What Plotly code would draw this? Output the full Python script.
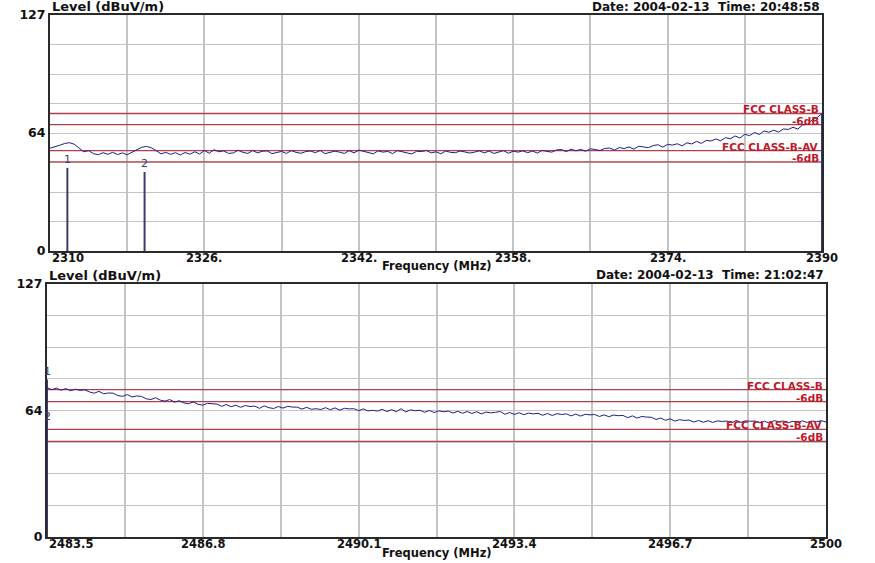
import plotly.graph_objects as go

W, H = 875, 563

# ---------------- data ----------------
top_start, top_step = 2310.0, 0.5
top_level = [
    55.3, 55.9, 56.9, 57.8, 58.3, 57.5, 55.2, 53.4, 54.0, 52.4,
    51.8, 52.9, 52.0, 53.1, 51.9, 52.8, 51.8, 53.0, 54.4, 55.8,
    56.3, 55.5, 54.0, 52.3, 53.1, 52.0, 52.9, 51.7, 53.0, 52.1,
    53.4, 52.2, 54.1, 52.6, 54.5, 53.4, 53.9, 52.5, 52.8, 54.2,
    53.1, 52.5, 54.1, 52.8, 53.7, 53.9, 52.4, 53.2, 53.6, 52.5,
    54.0, 53.1, 52.6, 53.5, 53.8, 52.9, 54.1, 52.4, 53.0, 53.7,
    53.2, 52.5, 54.0, 52.8, 54.3, 53.6, 52.8, 52.3, 53.9, 53.2,
    53.6, 52.4, 54.0, 53.3, 52.8, 52.2, 53.7, 53.5, 54.1, 52.8,
    53.4, 52.3, 53.8, 53.1, 52.9, 53.8, 53.3, 52.7, 53.2, 53.9,
    52.8, 53.8, 52.5, 53.1, 54.0, 52.6, 53.7, 53.2, 53.9, 52.9,
    53.8, 52.7, 54.1, 53.6, 53.2, 54.4, 54.6, 53.5, 54.8, 53.9,
    54.7, 53.7, 55.0, 54.6, 54.1, 55.2, 55.4, 54.3, 55.7, 55.1,
    56.0, 54.8, 56.4, 56.0, 55.6, 56.7, 57.2, 55.9, 57.4, 57.0,
    57.7, 56.6, 58.2, 57.6, 59.0, 57.9, 59.5, 59.2, 60.3, 59.3,
    61.0, 60.4, 61.9, 60.8, 62.8, 62.1, 63.8, 62.7, 64.6, 63.9,
    65.0, 64.0, 65.7, 65.4, 66.6, 65.6, 67.9, 68.1, 70.7, 71.8,
    74.0,
]
top_freq = [round(top_start + i * top_step, 2) for i in range(len(top_level))]

bot_start, bot_step = 2483.5, 0.1
bot_level = [
    75.0, 74.0, 74.7, 73.7, 74.5, 73.4, 74.2, 73.6, 73.9, 72.8,
    72.2, 73.1, 71.9, 72.3, 72.2, 71.0, 70.6, 71.5, 70.3, 70.8,
    70.6, 69.4, 69.0, 69.9, 68.7, 68.2, 69.0, 67.7, 68.4, 67.3,
    66.9, 67.8, 66.6, 66.2, 67.1, 66.8, 66.7, 65.6, 66.5, 65.4,
    66.1, 65.1, 66.0, 65.5, 65.7, 64.6, 65.8, 64.9, 64.5, 65.5,
    64.7, 65.6, 65.2, 65.2, 64.2, 65.1, 64.1, 64.4, 64.0, 64.9,
    63.9, 64.8, 63.7, 64.6, 64.3, 64.4, 63.4, 64.3, 63.3, 63.6,
    63.2, 64.1, 63.0, 63.9, 62.9, 64.4, 62.8, 63.8, 63.4, 63.6,
    62.6, 63.5, 62.5, 63.3, 62.9, 63.2, 62.2, 63.1, 62.1, 63.0,
    62.0, 62.9, 61.8, 62.7, 62.3, 62.6, 63.0, 61.6, 62.5, 61.5,
    62.4, 61.4, 62.2, 61.8, 62.1, 61.1, 62.0, 61.0, 61.9, 61.5,
    61.8, 60.8, 61.7, 60.7, 61.6, 61.3, 61.5, 60.5, 61.3, 60.4,
    61.2, 60.9, 61.0, 59.9, 60.8, 59.7, 60.5, 60.2, 60.1, 59.0,
    59.7, 58.6, 59.3, 58.2, 58.9, 58.5, 58.7, 57.7, 58.5, 57.6,
    58.4, 57.5, 58.3, 58.0, 58.2, 57.3, 58.5, 57.6, 58.3, 58.1,
    58.2, 57.3, 58.1, 57.2, 58.4, 57.9, 58.2, 57.3, 58.1, 57.4,
    58.3, 57.5, 58.2, 57.9, 58.4, 57.7,
]
bot_freq = [round(bot_start + i * bot_step, 2) for i in range(len(bot_level))]

limit_names = ["FCC CLASS-B", "-6dB", "FCC CLASS-B-AV", "-6dB"]
limit_values = [74, 68, 54, 48]

top_marker_freq = [2311.8, 2319.8]
top_marker_level = [44.7, 42.5]
top_marker_label = ["1", "2"]
bot_marker_freq = [2483.5, 2483.5]
bot_marker_level = [79.0, 56.0]
bot_marker_label = ["1", "2"]

top_xticks = [2310, 2326, 2342, 2358, 2374, 2390]
top_xtext = ["2310", "2326.", "2342.", "2358.", "2374.", "2390"]
top_xgrid = [2310, 2318, 2326, 2334, 2342, 2350, 2358, 2366, 2374, 2382, 2390]
bot_xticks = [2483.5, 2486.8, 2490.1, 2493.4, 2496.7, 2500]
bot_xtext = ["2483.5", "2486.8", "2490.1", "2493.4", "2496.7", "2500"]
bot_xgrid = [2483.5, 2485.15, 2486.8, 2488.45, 2490.1, 2491.75, 2493.4,
             2495.05, 2496.7, 2498.35, 2500]
ygrid = [0, 15.875, 31.75, 47.625, 63.5, 79.375, 95.25, 111.125, 127]
ytext = ["0", "", "", "", "64", "", "", "", "127"]

top_date = "Date: 2004-02-13  Time: 20:48:58"
bot_date = "Date: 2004-02-13  Time: 21:02:47"
y_title = "Level (dBuV/m)"
x_title = "Frequency (MHz)"

# ---------------- styling ----------------
FONT = "DejaVu Sans"
DATA_C = "#1e1e8a"
LIM_C = "#b0404c"
LAB_C = "#c0182a"
GRID_C = "#c4c4c4"
MARK_C = "#3c3c70"


def px(x):
    return x / W


def py(y):
    return 1 - y / H


panels = [
    dict(xa="x", ya="y", freq=top_freq, level=top_level, xr=[2310, 2390],
         dom_x=[px(50), px(822)], dom_y=[py(251), py(15)],
         mf=top_marker_freq, ml=top_marker_level, mt=top_marker_label,
         xticks=top_xticks, xtext=top_xtext, xgrid=top_xgrid,
         date=top_date, title_y=7, date_y=7, tick_y=258, left=50, right=822,
         end_drop=True),
    dict(xa="x2", ya="y2", freq=bot_freq, level=bot_level, xr=[2483.5, 2500],
         dom_x=[px(47), px(826)], dom_y=[py(537), py(284)],
         mf=bot_marker_freq, ml=bot_marker_level, mt=bot_marker_label,
         xticks=bot_xticks, xtext=bot_xtext, xgrid=bot_xgrid,
         date=bot_date, title_y=275, date_y=275, tick_y=544, left=47, right=826,
         end_drop=False),
]

fig = go.Figure()
annotations = []
layout = {}

for i, p in enumerate(panels):
    xa, ya = p["xa"], p["ya"]
    x0, x1 = p["xr"]
    # limit lines
    for v in limit_values:
        fig.add_trace(go.Scatter(x=[x0, x1], y=[v, v], mode="lines",
                                 line=dict(color=LIM_C, width=1.3),
                                 xaxis=xa, yaxis=ya, hoverinfo="skip"))
    # marker lines
    mx, my = [], []
    for f, l in zip(p["mf"], p["ml"]):
        mx += [f, f, None]
        my += [0, l, None]
    fig.add_trace(go.Scatter(x=mx, y=my, mode="lines",
                             line=dict(color=MARK_C, width=2),
                             xaxis=xa, yaxis=ya, hoverinfo="skip"))
    # data
    fig.add_trace(go.Scatter(x=p["freq"], y=p["level"], mode="lines",
                             line=dict(color=DATA_C, width=1),
                             xaxis=xa, yaxis=ya))
    if p["end_drop"]:
        fig.add_trace(go.Scatter(x=[p["freq"][-1], p["freq"][-1]],
                                 y=[p["level"][-1], 0], mode="lines",
                                 line=dict(color=MARK_C, width=2),
                                 xaxis=xa, yaxis=ya, hoverinfo="skip"))
    # limit labels
    for name, v in zip(limit_names, limit_values):
        annotations.append(dict(xref=xa, yref=ya, x=x1, y=v, text="<b>%s</b>" % name,
                                xanchor="right", yanchor="bottom", showarrow=False,
                                xshift=-2, yshift=-3, borderpad=0,
                                font=dict(family=FONT, size=10.5, color=LAB_C)))
    # marker labels
    for f, l, t in zip(p["mf"], p["ml"], p["mt"]):
        annotations.append(dict(xref=xa, yref=ya, x=f, y=l, text=t,
                                xanchor="center", yanchor="bottom", showarrow=False,
                                font=dict(family=FONT, size=11, color=MARK_C)))
    # x tick labels
    for k, (v, t) in enumerate(zip(p["xticks"], p["xtext"])):
        annotations.append(dict(xref=xa, yref="paper", x=v, y=py(p["tick_y"]),
                                text="<b>%s</b>" % t,
                                xanchor="left" if k == 0 else "center",
                                yanchor="middle", showarrow=False,
                                font=dict(family=FONT, size=11.5, color="#111")))
    # titles
    annotations.append(dict(xref="paper", yref="paper", x=px(p["left"]), y=py(p["title_y"]),
                            text="<b>%s</b>" % y_title, xanchor="left", yanchor="middle",
                            showarrow=False, font=dict(family=FONT, size=13, color="#111")))
    annotations.append(dict(xref="paper", yref="paper", x=px(p["right"]), y=py(p["date_y"]),
                            text="<b>%s</b>" % p["date"], xanchor="right", yanchor="middle",
                            showarrow=False, font=dict(family=FONT, size=12, color="#111")))

    suffix = "" if i == 0 else "2"
    layout["xaxis" + suffix] = dict(domain=p["dom_x"], range=[x0, x1], anchor=ya,
                                    tickvals=p["xgrid"], showticklabels=False, ticks="",
                                    showgrid=True, gridcolor=GRID_C, gridwidth=1.5,
                                    showline=True, linecolor="#2a2a2a", linewidth=2,
                                    mirror=True, zeroline=False, fixedrange=True)
    layout["yaxis" + suffix] = dict(domain=p["dom_y"], range=[0, 127], anchor=xa,
                                    tickvals=ygrid, ticktext=ytext, ticks="",
                                    tickfont=dict(family=FONT, size=12.5, color="#111",
                                                  weight="bold"),
                                    showgrid=True, gridcolor=GRID_C, gridwidth=1,
                                    showline=True, linecolor="#2a2a2a", linewidth=2,
                                    mirror=True, zeroline=False, fixedrange=True)

# x titles
annotations.append(dict(xref="paper", yref="paper", x=px(437), y=py(266),
                        text="<b>%s</b>" % x_title, xanchor="center", yanchor="middle",
                        showarrow=False, font=dict(family=FONT, size=11.5, color="#111")))
annotations.append(dict(xref="paper", yref="paper", x=px(437), y=py(553),
                        text="<b>%s</b>" % x_title, xanchor="center", yanchor="middle",
                        showarrow=False, font=dict(family=FONT, size=11.5, color="#111")))

fig.update_layout(width=W, height=H,
                  margin=dict(l=0, r=0, t=0, b=0, autoexpand=False),
                  paper_bgcolor="white", plot_bgcolor="white", showlegend=False,
                  annotations=annotations, **layout)

fig.write_html("out.html", config={"displayModeBar": False},
               post_script="document.body.style.margin='0';"
                           "document.body.style.overflow='hidden';")
